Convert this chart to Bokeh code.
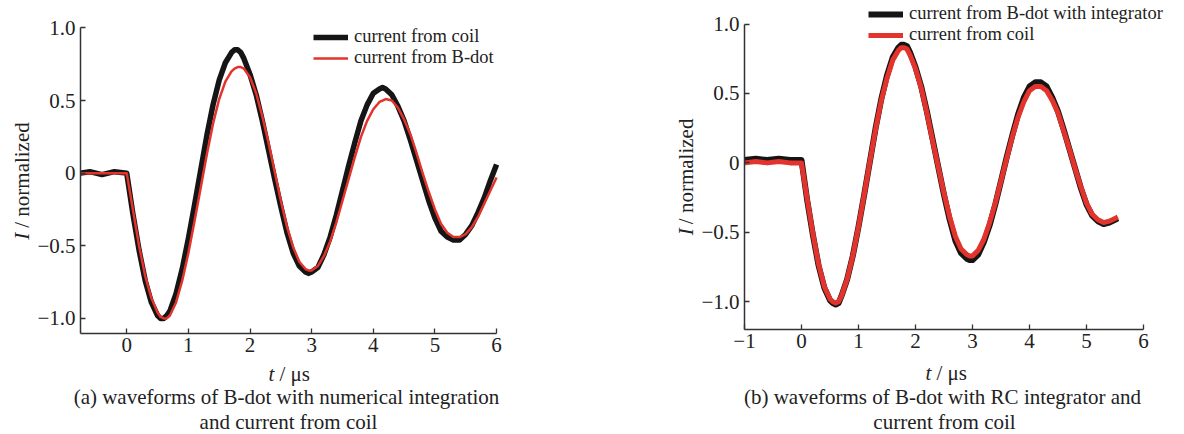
import math
from bokeh.plotting import figure
from bokeh.layouts import row, column
from bokeh.models import Label, Legend, LegendItem, FixedTicker
from bokeh.embed import file_html
from bokeh.resources import INLINE

# ---------------- data: panel (a) ----------------
t_a = [-0.75, -0.6, -0.4, -0.2, 0.0, 0.1, 0.2, 0.3, 0.4, 0.5, 0.55, 0.6, 0.65, 0.7, 0.8, 0.9, 1.0,
       1.1, 1.2, 1.3, 1.4, 1.5, 1.6, 1.7, 1.75, 1.8, 1.85, 1.9, 2.0, 2.1, 2.2, 2.3, 2.4, 2.5,
       2.6, 2.7, 2.8, 2.9, 2.95, 3.0, 3.1, 3.2, 3.3, 3.4, 3.5, 3.6, 3.7, 3.8, 3.9, 4.0,
       4.1, 4.15, 4.2, 4.3, 4.4, 4.5, 4.6, 4.7, 4.8, 4.9, 5.0, 5.1, 5.2, 5.3, 5.35, 5.4, 5.5,
       5.6, 5.7, 5.8, 5.9, 6.0]
coil_a = [0.0, 0.01, -0.01, 0.01, 0.0, -0.28, -0.53, -0.74, -0.89, -0.98, -1.0, -1.0, -0.98, -0.95, -0.83, -0.66, -0.45,
          -0.22, 0.02, 0.26, 0.47, 0.64, 0.76, 0.83, 0.85, 0.85, 0.83, 0.79, 0.68, 0.54, 0.36, 0.16, -0.04, -0.23,
          -0.41, -0.55, -0.64, -0.68, -0.69, -0.68, -0.65, -0.56, -0.44, -0.29, -0.12, 0.05, 0.21, 0.36, 0.47, 0.55,
          0.58, 0.59, 0.58, 0.54, 0.46, 0.36, 0.23, 0.09, -0.05, -0.19, -0.31, -0.40, -0.44, -0.46, -0.46, -0.46, -0.42,
          -0.36, -0.27, -0.17, -0.05, 0.06]
bdot_a = [0.0, 0.0, 0.0, 0.0, 0.0, -0.25, -0.50, -0.71, -0.86, -0.96, -0.99, -1.0, -1.0, -0.98, -0.89, -0.74, -0.55,
          -0.33, -0.10, 0.13, 0.34, 0.51, 0.63, 0.70, 0.72, 0.73, 0.73, 0.72, 0.66, 0.55, 0.39, 0.21, 0.01, -0.19,
          -0.37, -0.51, -0.61, -0.66, -0.67, -0.67, -0.64, -0.57, -0.47, -0.34, -0.19, -0.04, 0.11, 0.25, 0.36, 0.44,
          0.49, 0.50, 0.51, 0.50, 0.45, 0.37, 0.27, 0.14, 0.00, -0.13, -0.25, -0.35, -0.41, -0.44, -0.44, -0.44, -0.42,
          -0.37, -0.30, -0.21, -0.12, -0.03]

# ---------------- data: panel (b) ----------------
t_b = [-1.0, -0.8, -0.6, -0.4, -0.2, 0.0, 0.1, 0.2, 0.3, 0.4, 0.5, 0.55, 0.6, 0.65, 0.7, 0.8, 0.9, 1.0,
       1.1, 1.2, 1.3, 1.4, 1.5, 1.6, 1.7, 1.75, 1.8, 1.85, 1.9, 2.0, 2.1, 2.2, 2.3, 2.4, 2.5,
       2.6, 2.7, 2.8, 2.9, 2.95, 3.0, 3.1, 3.2, 3.3, 3.4, 3.5, 3.6, 3.7, 3.8, 3.9, 4.0,
       4.1, 4.15, 4.2, 4.3, 4.4, 4.5, 4.6, 4.7, 4.8, 4.9, 5.0, 5.1, 5.2, 5.3, 5.4, 5.5, 5.55]
integ_b = [0.02, 0.03, 0.02, 0.03, 0.02, 0.02, -0.27, -0.52, -0.74, -0.90, -0.99, -1.01, -1.02, -1.01, -0.96, -0.84, -0.67, -0.46,
           -0.23, 0.01, 0.25, 0.46, 0.63, 0.76, 0.83, 0.85, 0.85, 0.84, 0.80, 0.69, 0.55, 0.37, 0.17, -0.03, -0.23,
           -0.41, -0.56, -0.65, -0.69, -0.70, -0.70, -0.66, -0.57, -0.45, -0.30, -0.13, 0.04, 0.20, 0.35, 0.47, 0.55,
           0.58, 0.58, 0.58, 0.55, 0.47, 0.37, 0.24, 0.10, -0.04, -0.18, -0.30, -0.38, -0.42, -0.44, -0.43, -0.41, -0.40]
coil_b = [0.0, 0.01, 0.0, 0.01, 0.0, 0.0, -0.26, -0.51, -0.73, -0.89, -0.98, -1.0, -1.01, -1.0, -0.96, -0.84, -0.67, -0.46,
          -0.23, 0.01, 0.24, 0.45, 0.61, 0.74, 0.81, 0.83, 0.83, 0.82, 0.78, 0.68, 0.54, 0.36, 0.16, -0.03, -0.22,
          -0.39, -0.53, -0.62, -0.66, -0.67, -0.67, -0.63, -0.55, -0.43, -0.29, -0.13, 0.03, 0.19, 0.33, 0.44, 0.52,
          0.55, 0.55, 0.55, 0.52, 0.45, 0.36, 0.23, 0.10, -0.04, -0.17, -0.29, -0.37, -0.41, -0.43, -0.42, -0.40, -0.39]

yticks = [-1.0, -0.5, 0.0, 0.5, 1.0]
ytick_labels = ["\u22121.0", "\u22120.5", "0", "0.5", "1.0"]
xticks_a = [0, 1, 2, 3, 4, 5, 6]
xticks_b = [-1, 0, 1, 2, 3, 4, 5, 6]

FONT = "Liberation Serif"
BLACK = "#151515"
RED = "#e2332c"
TXT = "#222222"
TXT_KW = dict(text_font=FONT, text_font_size="21px", text_color=TXT)


def make_main(width, height, xr, yr, xbounds, ybounds, xticks, mb):
    p = figure(width=width, height=height, x_range=xr, y_range=yr,
               output_backend="svg", toolbar_location=None,
               min_border_left=mb[0], min_border_right=mb[1],
               min_border_top=mb[2], min_border_bottom=mb[3])
    p.outline_line_color = None
    p.grid.visible = False
    for ax in (p.xaxis[0], p.yaxis[0]):
        ax.axis_line_color = "#333333"
        ax.axis_line_width = 1.5
        ax.major_tick_line_color = "#333333"
        ax.major_tick_line_width = 1.3
        ax.major_tick_in = 5
        ax.major_tick_out = 0
        ax.minor_tick_line_color = None
        ax.major_label_text_font = FONT
        ax.major_label_text_font_size = "21px"
        ax.major_label_text_color = TXT
    p.xaxis.ticker = FixedTicker(ticks=xticks)
    p.xaxis.major_label_overrides = {v: ("\u2212" + str(-v) if v < 0 else str(v)) for v in xticks}
    p.xaxis.major_label_standoff = 4
    p.xaxis.bounds = xbounds
    p.yaxis.ticker = FixedTicker(ticks=yticks)
    p.yaxis.major_label_overrides = dict(zip(yticks, ytick_labels))
    p.yaxis.major_label_standoff = 5
    p.yaxis.bounds = ybounds
    return p


def make_blank(width, height):
    p = figure(width=width, height=height, x_range=(0, width), y_range=(height, 0),
               output_backend="svg", toolbar_location=None,
               x_axis_location=None, y_axis_location=None, min_border=0)
    p.outline_line_color = None
    p.grid.visible = False
    return p


def add_ylabel(p, x, y_i, y_rest):
    p.add_layout(Label(x=x, y=y_i, text="I", angle=math.pi / 2, text_align="left",
                       text_baseline="middle", text_font_style="italic", **TXT_KW))
    p.add_layout(Label(x=x, y=y_rest, text="/ normalized", angle=math.pi / 2, text_align="left",
                       text_baseline="middle", **TXT_KW))


def add_captions(p, x_t, x_rest, y_lab, cap1_xy, cap2_xy, cap1, cap2):
    p.add_layout(Label(x=x_t, y=y_lab, text="t", text_align="left",
                       text_baseline="top", text_font_style="italic", **TXT_KW))
    p.add_layout(Label(x=x_rest, y=y_lab, text="/ \u03bcs", text_align="left",
                       text_baseline="top", **TXT_KW))
    p.add_layout(Label(x=cap1_xy[0], y=cap1_xy[1], text=cap1, text_align="center",
                       text_baseline="middle", **TXT_KW))
    p.add_layout(Label(x=cap2_xy[0], y=cap2_xy[1], text=cap2, text_align="center",
                       text_baseline="middle", **TXT_KW))


def add_legend(p, items, loc):
    leg = Legend(items=items, location=loc, padding=0, margin=0, spacing=0,
                 border_line_color=None, background_fill_alpha=0,
                 label_text_font=FONT, label_text_font_size="18.5px", label_text_color=TXT,
                 glyph_width=35, glyph_height=20, label_height=20, label_standoff=6)
    p.add_layout(leg, "center")


# ---------------- panel (a) ----------------
main_a = make_main(606, 361, (-0.75, 8.27), (-1.104, 1.161), (-0.75, 6.0), (-1.104, 1.0),
                   xticks_a, (46, 4, 4, 28))
ra1 = main_a.line(t_a, coil_a, line_color=BLACK, line_width=5.5, line_join="round")
ra2 = main_a.line(t_a, bdot_a, line_color=RED, line_width=2.5, line_join="round")
add_legend(main_a, [LegendItem(label="current from coil", renderers=[ra1]),
                    LegendItem(label="current from B-dot", renderers=[ra2])], (233, 265))
ylab_a = make_blank(34, 361)
add_ylabel(ylab_a, 21, 258, 245)
cap_a = make_blank(640, 73)
add_captions(cap_a, 268, 279, 0, (286, 35), (288, 60),
             "(a) waveforms of B-dot with numerical integration", "and current from coil")

# ---------------- panel (b) ----------------
main_b = make_main(487, 357, (-1.0, 6.649), (-1.20, 1.155), (-1.0, 6.0), (-1.20, 1.0),
                   xticks_b, (47, 4, 2, 28))
rb1 = main_b.line(t_b, integ_b, line_color=BLACK, line_width=6, line_join="round")
rb2 = main_b.line(t_b, coil_b, line_color=RED, line_width=5, line_join="round")
add_legend(main_b, [LegendItem(label="current from B-dot with integrator", renderers=[rb1]),
                    LegendItem(label="current from coil", renderers=[rb2])], (124, 284))
ylab_b = make_blank(57, 357)
add_ylabel(ylab_b, 45, 254, 242)
cap_b = make_blank(544, 77)
add_captions(cap_b, 285, 296, 3, (302, 39), (304, 64),
             "(b) waveforms of B-dot with RC integrator and", "current from coil")

col_a = column(row(ylab_a, main_a, spacing=0), cap_a, spacing=0)
col_b = column(row(ylab_b, main_b, spacing=0), cap_b, spacing=0)
layout = row(col_a, col_b, spacing=0)
open("out.html", "w").write(file_html(layout, INLINE))
